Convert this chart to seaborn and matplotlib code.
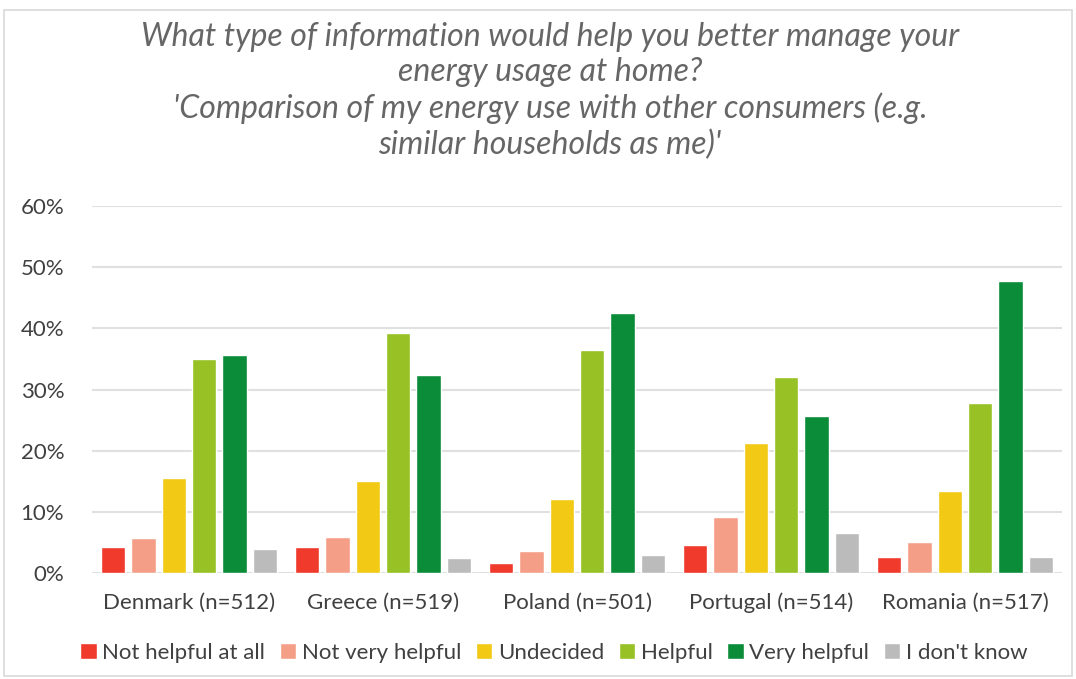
import numpy as np
import pandas as pd
import matplotlib.pyplot as plt
import seaborn as sns
from matplotlib.patches import Rectangle
from matplotlib.ticker import PercentFormatter

# --- Data ---
countries = ["Denmark (n=512)", "Greece (n=519)", "Poland (n=501)",
             "Portugal (n=514)", "Romania (n=517)"]
answers = ["Not helpful at all", "Not very helpful", "Undecided",
           "Helpful", "Very helpful", "I don't know"]

not_helpful_at_all = [4.3, 4.3, 1.7, 4.6, 2.7]
not_very_helpful = [5.8, 5.9, 3.6, 9.2, 5.0]
undecided = [15.5, 15.1, 12.1, 21.3, 13.4]
helpful = [35.0, 39.3, 36.5, 32.0, 27.8]
very_helpful = [35.7, 32.4, 42.6, 25.6, 47.7]
dont_know = [4.0, 2.4, 2.9, 6.6, 2.7]

palette = ["#F03A2C", "#F49E88", "#F2C914", "#97C124", "#0A8C38", "#BBBBBB"]

# long table for seaborn
series = [not_helpful_at_all, not_very_helpful, undecided, helpful, very_helpful, dont_know]
rows = []
for ans, vals in zip(answers, series):
    for c, v in zip(countries, vals):
        rows.append({"country": c, "answer": ans, "share": v / 100})
df = pd.DataFrame(rows)

sns.set_style("white")
plt.rcParams["font.family"] = ["Lato", "DejaVu Sans"]

fig = plt.figure(figsize=(10.76, 6.79), dpi=100)
ax = fig.add_axes([0.0855, 0.156, 0.9015, 0.5405])

sns.barplot(data=df, x="country", y="share", hue="answer", hue_order=answers,
            palette=palette, width=0.94, gap=0.2, saturation=1, ax=ax,
            errorbar=None, legend=True)

ax.set_ylim(0, 0.6)
ax.set_xlim(-0.5, 4.5)
ax.set_yticks(np.arange(0, 0.61, 0.1))
ax.yaxis.set_major_formatter(PercentFormatter(1.0, decimals=0))
ax.grid(axis="y", color="#E0E0E0", linewidth=1.5)
ax.set_axisbelow(True)
for s in ax.spines.values():
    s.set_visible(False)
ax.set_xlabel("")
ax.set_ylabel("")
ax.tick_params(axis="both", length=0, labelsize=16, colors="#404040")
ax.tick_params(axis="y", pad=20)
ax.tick_params(axis="x", pad=14)

ax.legend(loc="upper center", bbox_to_anchor=(0.476, -0.135), ncol=6, frameon=False,
          fontsize=16, handlelength=0.75, handleheight=0.75, handletextpad=0.25,
          columnspacing=0.65, labelcolor="#404040")

title = ("What type of information would help you better manage your\n"
         "energy usage at home?\n"
         "'Comparison of my energy use with other consumers (e.g.\n"
         "similar households as me)'")
fig.text(0.511, 0.968, title, ha="center", va="top", fontsize=23, style="italic",
         color="#666666", linespacing=1.22)

fig.patches.append(Rectangle((0.004, 0.004), 0.992, 0.982, transform=fig.transFigure,
                             fill=False, edgecolor="#D9D9D9", linewidth=1.2))

fig.savefig("out.png", dpi=100)
